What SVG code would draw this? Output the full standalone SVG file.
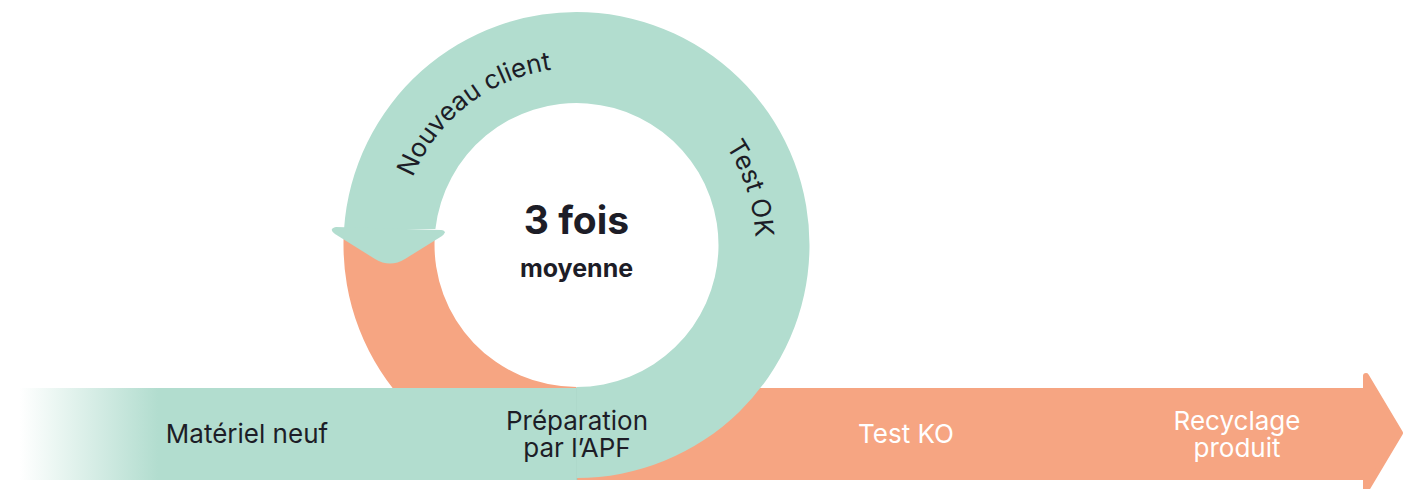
<svg xmlns="http://www.w3.org/2000/svg" width="1414" height="489" viewBox="0 0 1414 489">
  <defs>
    <linearGradient id="fadeIn" gradientUnits="userSpaceOnUse" x1="20" y1="0" x2="158" y2="0">
      <stop offset="0" stop-color="#b2ddcf" stop-opacity="0"/>
      <stop offset="1" stop-color="#b2ddcf" stop-opacity="1"/>
    </linearGradient>
    <!-- clockwise guide circles for ring labels, starting at the left -->
    <path id="ringPath" d="M 399.5,245 A 177 177 0 1 1 753.5,245 A 177 177 0 1 1 399.5,245"/>
    <path id="ringPathOuter" d="M 397.5,245 A 179 179 0 1 1 755.5,245 A 179 179 0 1 1 397.5,245"/>
  </defs>
  <style>
    .mint { fill: #b2ddcf; }
    .coral { fill: #f6a582; }
    .lbl { font-family: Inter, "Noto Sans", "Liberation Sans", sans-serif; font-size: 26px; fill: #1d1d27; text-anchor: middle; }
    .lbl.light { fill: #ffffff; }
    .ring { font-family: Inter, "Noto Sans", "Liberation Sans", sans-serif; font-size: 26px; fill: #1d1d27; text-anchor: middle; }
    .big { font-family: Inter, "Noto Sans", "Liberation Sans", sans-serif; font-weight: 700; fill: #1d1d27; text-anchor: middle; }
  </style>

  <g id="connectors">
    <!-- lower-left quarter of the loop (coral) -->
    <path id="loop-return" class="coral" d="M 343.6,238 A 233 233 0 0 0 576.5,478 L 576.5,387 A 142 142 0 0 1 434.7,238 Z"/>
    <!-- main coral flow towards recycling -->
    <g id="flow-out">
      <rect class="coral" x="576" y="388" width="792" height="92"/>
      <polygon class="coral" points="1366,376 1400,433 1366,490" stroke="#f6a582" stroke-width="6" stroke-linejoin="round"/>
    </g>
    <!-- incoming mint flow with faded start -->
    <rect id="flow-in" x="0" y="388" width="577" height="92" fill="url(#fadeIn)"/>
    <rect x="158" y="388" width="419" height="92" class="mint"/>
    <line x1="577" y1="388" x2="577" y2="480" stroke="#9cc8b9" stroke-width="1" opacity="0.7"/>
    <!-- mint loop arc with its arrowhead -->
    <path id="loop-arc" class="mint" d="M 576.5,478 A 233 233 0 1 0 344.05,229 L 435.4,229 A 142 142 0 1 1 576.5,387 Z"/>
    <path id="loop-head" class="mint" d="M 336,227 L 441,230 Q 448,231 442,236 L 405,259 Q 390,268 375,259 L 335,234 Q 328,229 336,227 Z"/>
  </g>

  <g id="node-center">
    <text class="big" x="576.5" y="234" font-size="39">3 fois</text>
    <text class="big" x="576.5" y="277" font-size="25">moyenne</text>
  </g>

  <g id="node-nouveau-client">
    <text class="ring"><textPath href="#ringPath" startOffset="161">Nouveau client</textPath></text>
  </g>
  <g id="node-test-ok">
    <text class="ring"><textPath href="#ringPathOuter" startOffset="506">Test OK</textPath></text>
  </g>

  <g id="node-materiel-neuf">
    <text class="lbl" x="247" y="443">Matériel neuf</text>
  </g>
  <g id="node-preparation">
    <text class="lbl" x="577" y="430">Préparation<tspan x="577" dy="27">par l’APF</tspan></text>
  </g>
  <g id="node-test-ko">
    <text class="lbl light" x="906" y="443">Test KO</text>
  </g>
  <g id="node-recyclage">
    <text class="lbl light" x="1237" y="430">Recyclage<tspan x="1237" dy="27">produit</tspan></text>
  </g>
</svg>
